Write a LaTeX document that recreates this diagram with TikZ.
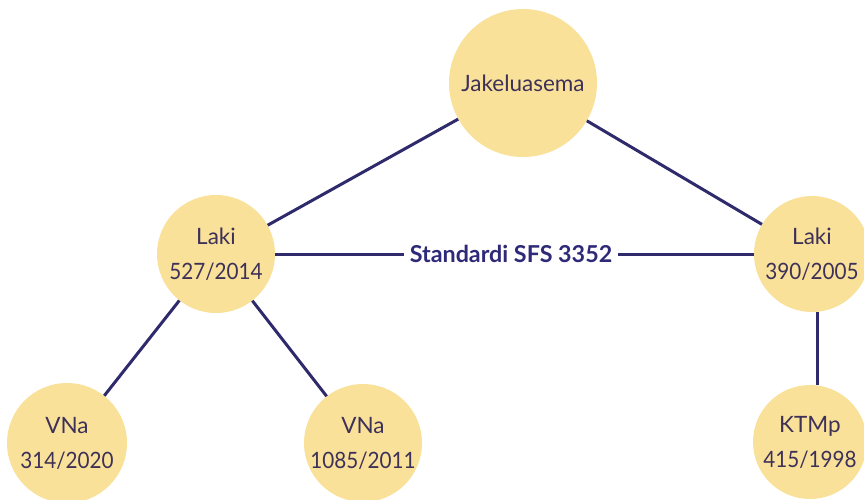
\documentclass[tikz,border=0pt]{standalone}
\usepackage{fontspec}
\usepackage{graphicx}
\setmainfont{Lato}
\definecolor{circfill}{HTML}{F9E19A}
\definecolor{linecol}{HTML}{2F2A6B}
\definecolor{txtcol}{HTML}{3E3158}
\definecolor{stdcol}{HTML}{2E2A78}
\newcommand{\numtxt}[1]{\scalebox{0.92}[1]{#1}}
\begin{document}
\begin{tikzpicture}[x=1pt,y=-1pt,
  circ/.style={circle,fill=circfill,draw=none,inner sep=0pt,text=txtcol,align=center,font=\fontsize{22.5}{35}\selectfont},
  conn/.style={draw=linecol,line width=3pt}]
\clip (0,0) rectangle (864,499);
\useasboundingbox (0,0) rectangle (864,499);
\fill[white] (0,0) rectangle (864,499);
\node[circ,minimum size=148pt] (jak) at (523,83) {Jakeluasema};
\node[circ,minimum size=118pt] (lakiL) at (216,254) {Laki\\\numtxt{527/2014}};
\node[circ,minimum size=116pt] (lakiR) at (812,254) {Laki\\\numtxt{390/2005}};
\node[circ,minimum size=120pt] (vna1) at (67,443) {VNa\\\numtxt{314/2020}};
\node[circ,minimum size=118pt] (vna2) at (363,443) {VNa\\\numtxt{1085/2011}};
\node[circ,minimum size=114pt] (ktmp) at (810,442) {KTMp\\\numtxt{415/1998}};
\node[text=stdcol,font=\bfseries\fontsize{23.3}{27}\selectfont,inner xsep=6pt] (std) at (511,254) {Standardi SFS 3352};
\draw[conn] (lakiL) -- (jak);
\draw[conn] (jak) -- (lakiR);
\draw[conn] (lakiL.east) -- (std.west);
\draw[conn] (std.east) -- (lakiR.west);
\draw[conn] (lakiL) -- (vna1);
\draw[conn] (lakiL) -- (vna2);
\draw[conn] (lakiR.south -| 817,0) -- (ktmp.north -| 817,0);
\end{tikzpicture}
\end{document}
